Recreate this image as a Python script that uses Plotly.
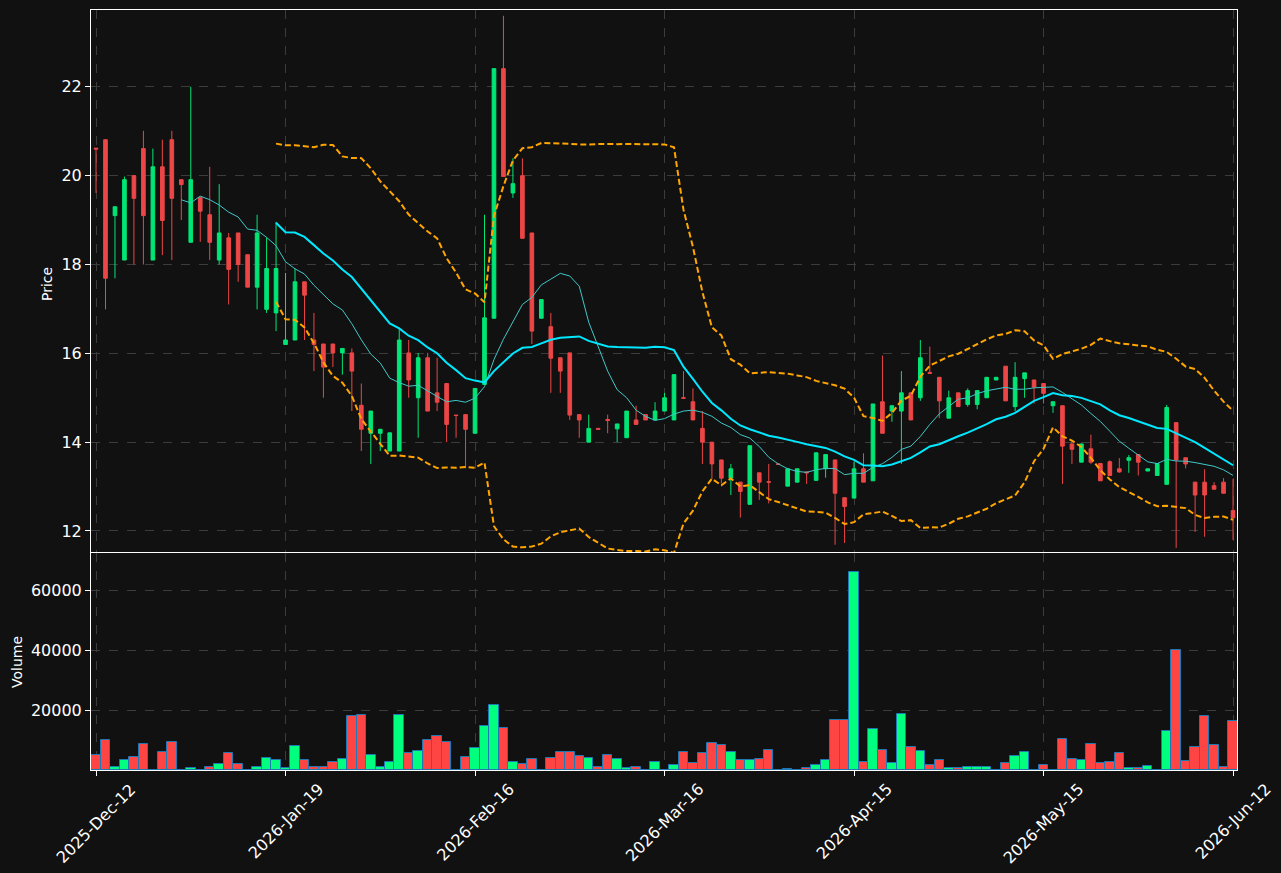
import numpy as np
import pandas as pd
import plotly.graph_objects as go

tick_idx = [0, 20, 40, 60, 80, 100, 120]
tick_labels = ["2025-Dec-12", "2026-Jan-19", "2026-Feb-16", "2026-Mar-16",
               "2026-Apr-15", "2026-May-15", "2026-Jun-12"]
price_ticks = [12, 14, 16, 18, 20, 22]
vol_ticks = [20000, 40000, 60000]

opens = [20.62, 20.81, 19.10, 18.10, 20.00, 20.61, 18.10, 20.20, 20.81, 19.91,
         18.50, 19.51, 19.12, 18.10, 18.60, 18.71, 18.22, 17.49, 16.99, 16.91,
         16.20, 16.30, 17.61, 16.30, 16.21, 16.21, 16.01, 16.01, 14.83, 14.20,
         14.20, 13.80, 13.80, 16.01, 15.00, 15.90, 15.11, 15.32, 14.61, 14.62,
         14.20, 15.30, 16.79, 22.41, 19.61, 20.00, 18.71, 16.79, 16.60, 15.90,
         16.01, 14.62, 14.00, 14.31, 14.51, 14.30, 14.10, 14.50, 14.62, 14.50,
         14.70, 14.50, 15.00, 14.91, 14.31, 14.00, 13.60, 13.19, 13.10, 12.60,
         13.31, 13.11, 13.51, 13.01, 13.10, 13.33, 13.14, 13.40, 13.60, 12.75,
         12.74, 13.40, 13.13, 14.91, 14.70, 14.70, 15.11, 15.00, 15.57, 15.46,
         14.54, 15.11, 14.85, 14.85, 15.00, 15.40, 15.71, 14.80, 15.43, 15.40,
         15.32, 14.82, 14.82, 13.96, 13.55, 13.85, 13.52, 13.56, 13.40, 13.59,
         13.72, 13.35, 13.25, 13.05, 14.44, 13.65, 13.10, 13.10, 13.02, 13.10,
         12.46]
highs = [20.62, 20.81, 19.30, 19.98, 20.00, 21.01, 20.61, 20.81, 21.01, 19.91,
         22.00, 19.51, 20.20, 19.81, 18.71, 18.71, 18.22, 19.12, 18.61, 18.96,
         17.81, 17.91, 17.61, 16.91, 16.21, 16.21, 16.11, 16.11, 15.32, 14.70,
         14.29, 14.21, 16.54, 16.30, 16.01, 16.01, 15.90, 15.32, 14.61, 14.62,
         15.21, 19.12, 22.41, 23.60, 20.39, 20.39, 18.71, 17.21, 16.91, 15.90,
         16.01, 14.62, 14.62, 14.31, 14.62, 14.41, 14.70, 14.82, 14.62, 14.90,
         15.11, 15.52, 15.60, 15.21, 14.70, 14.00, 13.60, 13.51, 13.10, 13.92,
         13.31, 13.51, 13.51, 13.40, 13.40, 13.33, 13.76, 13.72, 13.60, 12.75,
         13.56, 13.75, 14.86, 15.95, 14.82, 15.60, 15.11, 16.30, 16.15, 15.46,
         15.16, 15.11, 15.21, 15.16, 15.46, 15.46, 15.71, 15.80, 15.56, 15.40,
         15.32, 14.91, 14.82, 14.03, 13.96, 14.17, 13.52, 13.59, 13.64, 13.71,
         13.72, 13.40, 13.52, 14.84, 14.44, 13.65, 13.10, 13.39, 13.10, 13.19,
         13.17]
lows = [19.61, 16.99, 17.69, 18.10, 18.00, 18.00, 18.10, 18.21, 18.10, 19.00,
        18.50, 18.51, 18.10, 18.00, 17.10, 17.61, 17.49, 16.99, 16.91, 16.50,
        16.20, 16.30, 16.30, 15.60, 15.00, 15.69, 15.52, 14.70, 13.80, 13.51,
        13.80, 13.80, 13.80, 15.00, 14.10, 14.70, 14.70, 14.00, 14.10, 13.41,
        14.20, 15.30, 16.79, 19.98, 19.50, 18.59, 16.21, 16.79, 15.11, 15.11,
        14.50, 14.10, 14.00, 14.29, 14.20, 14.00, 14.10, 14.40, 14.50, 14.50,
        14.70, 14.50, 14.99, 14.50, 13.51, 13.17, 13.07, 12.81, 12.30, 12.60,
        12.70, 12.62, 13.50, 13.01, 13.10, 13.06, 13.14, 13.20, 11.69, 11.73,
        12.74, 13.10, 13.13, 14.20, 14.46, 13.51, 14.50, 14.93, 15.55, 14.54,
        14.54, 14.80, 14.80, 14.74, 15.00, 15.40, 14.93, 14.70, 15.00, 14.87,
        14.87, 14.66, 13.06, 13.51, 13.55, 13.51, 13.13, 13.25, 13.31, 13.31,
        13.25, 13.35, 13.25, 13.05, 11.62, 13.41, 11.98, 11.87, 12.94, 12.85,
        11.80]
closes = [20.60, 17.69, 19.30, 19.91, 19.49, 19.10, 20.20, 18.99, 19.49, 19.80,
          19.91, 19.20, 18.50, 18.71, 17.89, 18.00, 17.49, 18.71, 17.91, 17.91,
          16.30, 17.61, 17.31, 16.20, 15.69, 16.01, 16.11, 15.60, 14.29, 14.70,
          14.29, 14.21, 16.30, 15.40, 15.90, 14.70, 14.90, 14.40, 14.60, 14.29,
          15.21, 16.80, 22.41, 19.98, 19.82, 18.59, 16.50, 17.21, 15.89, 15.60,
          14.61, 14.50, 14.31, 14.29, 14.49, 14.41, 14.70, 14.40, 14.50, 14.70,
          15.00, 15.52, 14.99, 14.50, 14.00, 13.51, 13.19, 13.40, 12.89, 13.92,
          13.10, 13.10, 13.50, 13.40, 13.40, 13.31, 13.76, 13.72, 12.85, 12.55,
          13.40, 13.10, 14.86, 14.20, 14.82, 15.11, 14.50, 15.90, 15.55, 14.93,
          15.00, 14.80, 15.16, 15.16, 15.46, 15.46, 14.93, 15.46, 15.56, 15.24,
          15.10, 14.91, 13.91, 13.84, 13.96, 13.55, 13.13, 13.25, 13.33, 13.65,
          13.55, 13.40, 13.52, 14.78, 13.60, 13.51, 12.81, 12.81, 12.94, 12.85,
          12.30]
volumes = [4900, 9950, 1100, 3240, 4250, 8600, 150, 5900, 9270, 150,
           800, 150, 900, 1900, 5600, 1900, 150, 1100, 3900, 3240,
           560, 7900, 3240, 1100, 900, 2570, 3600, 18000, 18300, 4900,
           1100, 2570, 18300, 5600, 6260, 9950, 11300, 9270, 150, 4250,
           7260, 14600, 21700, 14000, 2570, 1900, 3600, 150, 3900, 5900,
           5900, 4600, 3900, 1100, 4900, 3600, 560, 1100, 150, 2570,
           0, 1560, 5900, 2230, 5600, 8940, 8270, 5900, 3240, 3240,
           3600, 6600, 0, 200, 0, 560, 1560, 3240, 16650, 16650,
           65900, 2570, 13600, 6600, 2230, 18700, 7600, 6260, 1560, 3240,
           560, 560, 900, 900, 900, 150, 2230, 4600, 5900, 150,
           1560, 150, 10300, 3600, 3240, 8600, 2230, 2570, 5600, 560,
           560, 1230, 150, 13000, 40100, 2900, 7600, 18000, 8270, 900,
           16300]

UP = "#00e676"
DOWN = "#ec4646"
VUP = "#00ff7f"
VDOWN = "#ff4444"

x = list(range(len(closes)))
cs = pd.Series(closes)
sma20 = cs.rolling(20).mean()
sma10 = cs.rolling(10).mean()
std20 = cs.rolling(20).std(ddof=0)
bb_up = sma20 + 2 * std20
bb_lo = sma20 - 2 * std20

def nn(s):
    return [None if pd.isna(v) else float(v) for v in s]

vcolors = [VUP if c >= o else VDOWN for o, c in zip(opens, closes)]

fig = go.Figure()
fig.add_trace(go.Candlestick(
    x=x, open=opens, high=highs, low=lows, close=closes,
    increasing=dict(line=dict(color=UP, width=1), fillcolor=UP),
    decreasing=dict(line=dict(color=DOWN, width=1), fillcolor=DOWN),
    whiskerwidth=0, xaxis="x", yaxis="y", showlegend=False, hoverinfo="skip"))
fig.add_trace(go.Scatter(x=x, y=nn(bb_up), mode="lines", xaxis="x", yaxis="y",
                         line=dict(color="#ffa500", width=2, dash="6px,3px"),
                         showlegend=False, hoverinfo="skip"))
fig.add_trace(go.Scatter(x=x, y=nn(bb_lo), mode="lines", xaxis="x", yaxis="y",
                         line=dict(color="#ffa500", width=2, dash="6px,3px"),
                         showlegend=False, hoverinfo="skip"))
fig.add_trace(go.Scatter(x=x, y=nn(sma10), mode="lines", xaxis="x", yaxis="y",
                         line=dict(color="#40c8c8", width=1),
                         showlegend=False, hoverinfo="skip"))
fig.add_trace(go.Scatter(x=x, y=nn(sma20), mode="lines", xaxis="x", yaxis="y",
                         line=dict(color="#00e8ff", width=2),
                         showlegend=False, hoverinfo="skip"))
fig.add_trace(go.Bar(x=x, y=volumes, xaxis="x2", yaxis="y2", width=1.0,
                     marker=dict(color=vcolors, line=dict(color="#1f77b4", width=1)),
                     showlegend=False, hoverinfo="skip"))

W, H = 1281, 873
L, R, T, B = 91, 1237, 10, 770
ph = B - T
price_bottom = (B - 552) / ph
vol_top = (B - 553) / ph

grid = dict(showgrid=True, gridcolor="#3c3c3c", griddash="dash", gridwidth=1)
frame = dict(showline=True, linecolor="#ffffff", linewidth=1, mirror=True, zeroline=False)
font = dict(family="DejaVu Sans", size=14, color="#ffffff")
tfont = dict(family="DejaVu Sans", size=16, color="#ffffff")
xr = [-0.53, 120.42]

annotations = [
    dict(text="Price", xref="paper", yref="paper",
         x=(47 - L) / (R - L), y=(B - 284) / ph, xanchor="center", yanchor="middle",
         textangle=-90, showarrow=False, font=font),
    dict(text="Volume", xref="paper", yref="paper",
         x=(17 - L) / (R - L), y=(B - 662) / ph, xanchor="center", yanchor="middle",
         textangle=-90, showarrow=False, font=font),
]
for ti, tl in zip(tick_idx, tick_labels):
    annotations.append(dict(text=tl, xref="x2", yref="paper", x=ti,
                            y=(B - 777) / ph, xanchor="center", yanchor="top",
                            textangle=-45, showarrow=False, font=tfont))

fig.update_layout(
    width=W, height=H,
    margin=dict(l=L, r=W - R, t=T, b=H - B),
    paper_bgcolor="#111111", plot_bgcolor="#111111",
    font=font, boxgap=0.45, bargap=0,
    xaxis=dict(domain=[0, 1], anchor="y", range=xr, tickmode="array",
               tickvals=tick_idx, ticktext=tick_labels, showticklabels=False,
               ticks="", rangeslider=dict(visible=False), **grid, **frame),
    yaxis=dict(domain=[price_bottom, 1], anchor="x", range=[11.527, 23.73],
               tickmode="array", tickvals=price_ticks,
               ticktext=[str(v) for v in price_ticks],
               ticks="outside", ticklen=5, tickcolor="#ffffff",
               tickfont=tfont, **grid, **frame),
    xaxis2=dict(domain=[0, 1], anchor="y2", range=xr, tickmode="array",
                tickvals=tick_idx, ticktext=tick_labels, showticklabels=False,
                ticks="outside", ticklen=5, tickcolor="#ffffff",
                **grid, **frame),
    yaxis2=dict(domain=[0, vol_top], anchor="x2", range=[0, 72333],
                tickmode="array", tickvals=vol_ticks,
                ticktext=[str(v) for v in vol_ticks],
                ticks="outside", ticklen=5, tickcolor="#ffffff",
                tickfont=tfont, **grid, **frame),
    annotations=annotations,
)

fig.write_html("out.html")
